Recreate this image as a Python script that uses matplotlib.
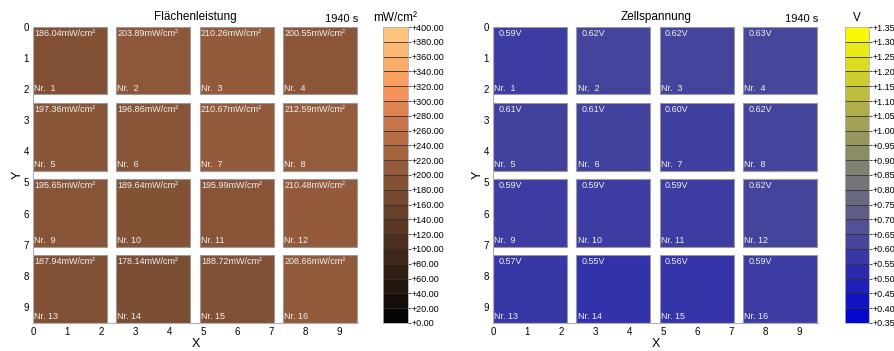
import numpy as np
import matplotlib
matplotlib.use("Agg")
import matplotlib.pyplot as plt
from matplotlib.colors import LinearSegmentedColormap, ListedColormap, BoundaryNorm, Normalize
from matplotlib.patches import Rectangle

plt.rcParams['font.family'] = ['Liberation Sans', 'DejaVu Sans']

# cell values, Nr. 1..16 row by row
power = [186.04, 203.89, 210.26, 200.55,
         197.36, 196.86, 210.67, 212.59,
         195.65, 189.64, 195.99, 210.48,
         187.94, 178.14, 188.72, 208.66]
voltage = [0.59, 0.62, 0.62, 0.63,
           0.61, 0.61, 0.60, 0.62,
           0.59, 0.59, 0.59, 0.62,
           0.57, 0.55, 0.56, 0.59]
time_label = "1940 s"
power_levels = np.arange(0, 401, 20)
volt_levels = np.round(np.arange(0.35, 1.351, 0.05), 2)

cmap_p = LinearSegmentedColormap.from_list(
    "pw", [(0.0, "#000000"), (0.5, "#8a5638"), (0.68, "#c8764c"),
           (0.78, "#f7935a"), (1.0, "#ffca80")])
cmap_v = LinearSegmentedColormap.from_list(
    "vz", [(0.0, "#0000d2"), (0.25, "#3f3fa0"), (0.5, "#7a7a74"),
           (0.7, "#a8a850"), (1.0, "#ffff00")])

pitch = 2.45
size = 2.17

fig = plt.figure(figsize=(8.95, 3.51), dpi=100)


def panel(ax_rect, cb_rect, vals, levels, cmap, title, unit, fmt, ltext_pad):
    ax = fig.add_axes(ax_rect)
    norm = Normalize(levels[0], levels[-1])
    for i, v in enumerate(vals):
        r, c = divmod(i, 4)
        x0, y0 = c * pitch, r * pitch
        ax.add_patch(Rectangle((x0, y0), size, size, facecolor=cmap(norm(v)),
                               edgecolor="#9a9a9a", lw=0.8))
        ax.text(x0 + ltext_pad, y0 + 0.05, fmt(v), color="#f0f0f0", fontsize=6.5,
                ha="left", va="top")
        ax.text(x0 + 0.03, y0 + size - 0.05, "Nr. %2d" % (i + 1), color="#f0f0f0",
                fontsize=6.5, ha="left", va="bottom")
    ax.set_xlim(0, 9.55)
    ax.set_ylim(9.52, 0)
    ax.set_xticks(range(10))
    ax.set_yticks(range(10))
    ax.tick_params(length=0, labelsize=7, pad=3)
    for s in ["top", "right"]:
        ax.spines[s].set_visible(False)
    for s in ["left", "bottom"]:
        ax.spines[s].set_color("#b0b0b0")
    ax.set_xlabel("X", fontsize=9, labelpad=1)
    ax.set_ylabel("Y", fontsize=9, labelpad=0, rotation=90)
    ax.set_title(title, fontsize=8.5, pad=5)
    ax.text(1.0, 1.01, time_label, transform=ax.transAxes, ha="right", va="bottom",
            fontsize=8)

    cax = fig.add_axes(cb_rect)
    n = len(levels) - 1
    centers = (np.arange(n) + 0.5) / n
    lcmap = ListedColormap([cmap(c) for c in centers])
    bnorm = BoundaryNorm(levels, n)
    sm = plt.cm.ScalarMappable(norm=bnorm, cmap=lcmap)
    cb = fig.colorbar(sm, cax=cax, boundaries=levels, ticks=levels, drawedges=True)
    cb.dividers.set_color("#333333")
    cb.dividers.set_linewidth(0.6)
    cb.outline.set_edgecolor("#b0b0b0")
    cb.outline.set_linewidth(0.6)
    cb.ax.set_yticklabels(["+%.2f" % l for l in levels])
    cb.ax.tick_params(labelsize=6.5, length=2, width=0.5, pad=0.5)
    cax.set_title(unit, fontsize=8.5, pad=4)


panel([0.037, 0.080, 0.363, 0.843], [0.428, 0.080, 0.028, 0.843],
      power, power_levels, cmap_p, "Flächenleistung", "mW/cm²",
      lambda v: "%.2fmW/cm²" % v, 0.03)
panel([0.551, 0.080, 0.363, 0.843], [0.944, 0.080, 0.027, 0.843],
      voltage, volt_levels, cmap_v, "Zellspannung", "V",
      lambda v: "%.2fV" % v, 0.15)

fig.savefig("out.png", dpi=100)
